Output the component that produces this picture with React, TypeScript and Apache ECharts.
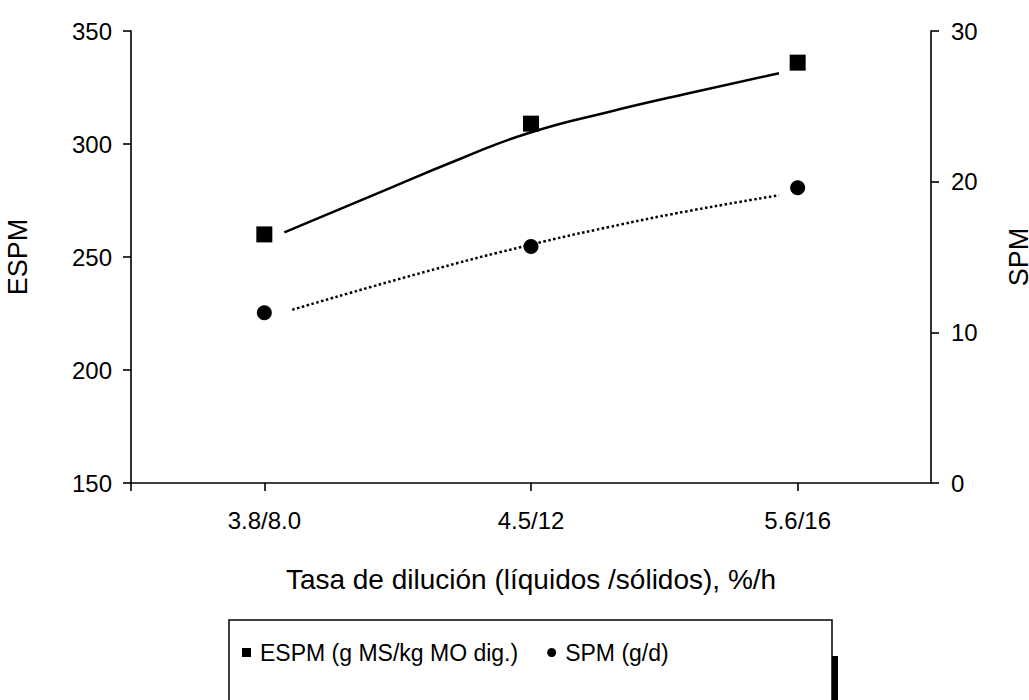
import React, { useEffect, useRef } from "react";
import * as echarts from "echarts";

const categories = ["3.8/8.0", "4.5/12", "5.6/16"];
const categorySlots = [1, 3, 5];
const espmValues = [260, 309, 336];
const spmValues = [11.3, 15.7, 19.6];
const espmTrendX = [1.15, 1.79, 2.48, 2.99, 3.59, 4.15, 4.86];
const espmTrendY = [260.9, 276.7, 293.7, 305.0, 314.3, 322.0, 331.3];
const spmTrendX = [1.21, 2.2, 2.99, 3.59, 4.15, 4.86];
const spmTrendY = [11.5, 14.0, 15.8, 17.0, 18.0, 19.1];
const leftTicks = [150, 200, 250, 300, 350];
const rightTicks = [0, 10, 20, 30];

const FONT = "'Liberation Sans', Arial, sans-serif";
const TICK_FS = 24;
const NAME_FS = 27;
const TITLE_FS = 28;
const LEGEND_FS = 23;

export default function App() {
  const ref = useRef<HTMLDivElement>(null);
  useEffect(() => {
    if (!ref.current) return;
    const chart = echarts.init(ref.current, null, { renderer: "svg" });
    const axisCats: string[] = ["", ...categories.flatMap((c) => [c, ""])];
    const line = { lineStyle: { color: "#000", width: 1.6 } };
    chart.setOption({
      animation: false,
      backgroundColor: "#fff",
      textStyle: { fontFamily: FONT, color: "#000" },
      grid: {
        left: 131,
        right: 98,
        top: 31,
        bottom: 217,
        containLabel: false,
        outerBoundsMode: "none",
      },
      xAxis: [
        {
          type: "category",
          data: axisCats,
          boundaryGap: false,
          axisLine: { show: true, ...line },
          axisTick: {
            show: true,
            length: 8,
            inside: false,
            interval: (i: number) => i === 0 || i % 2 === 1,
            ...line,
          },
          axisLabel: {
            interval: (i: number) => i % 2 === 1,
            fontSize: TICK_FS,
            fontFamily: FONT,
            color: "#000",
            margin: 25,
          },
          splitLine: { show: false },
          name: "Tasa de dilución (líquidos /sólidos), %/h",
          nameLocation: "middle",
          nameGap: 82,
          nameTextStyle: { fontSize: TITLE_FS, fontFamily: FONT, color: "#000" },
        },
        {
          type: "value",
          min: 0,
          max: 6,
          show: false,
        },
      ],
      yAxis: [
        {
          type: "value",
          min: leftTicks[0],
          max: leftTicks[leftTicks.length - 1],
          interval: 50,
          position: "left",
          axisLine: { show: true, onZero: false, ...line },
          axisTick: { show: true, length: 8, inside: false, ...line },
          axisLabel: { fontSize: TICK_FS, fontFamily: FONT, color: "#000", margin: 19 },
          splitLine: { show: false },
          name: "ESPM",
          nameLocation: "middle",
          nameRotate: 90,
          nameGap: 100,
          nameTextStyle: { fontSize: NAME_FS, fontFamily: FONT, color: "#000" },
        },
        {
          type: "value",
          min: rightTicks[0],
          max: rightTicks[rightTicks.length - 1],
          interval: 10,
          position: "right",
          axisLine: { show: true, onZero: false, ...line },
          axisTick: { show: true, length: 8, inside: false, ...line },
          axisLabel: { fontSize: TICK_FS, fontFamily: FONT, color: "#000", margin: 20 },
          splitLine: { show: false },
          name: "SPM",
          nameLocation: "middle",
          nameRotate: 90,
          nameGap: 74,
          nameTextStyle: { fontSize: NAME_FS, fontFamily: FONT, color: "#000" },
        },
      ],
      legend: {
        left: 237,
        top: 636,
        itemGap: 29,
        itemWidth: 9,
        itemHeight: 9,
        textStyle: { fontSize: LEGEND_FS, fontFamily: FONT, color: "#000", padding: [0, 0, 0, 4] },
        data: [
          { name: "ESPM (g MS/kg MO dig.)", icon: "rect" },
          { name: "SPM (g/d)", icon: "circle" },
        ],
      },
      graphic: [
        {
          type: "rect",
          z: 0,
          shape: { x: 832, y: 656, width: 6, height: 60 },
          style: { fill: "#000" },
        },
        {
          type: "rect",
          z: 1,
          shape: { x: 229, y: 620, width: 603, height: 100 },
          style: { fill: "#fff", stroke: "#000", lineWidth: 1.5 },
        },
      ],
      series: [
        {
          name: "ESPM trend",
          type: "line",
          xAxisIndex: 1,
          yAxisIndex: 0,
          smooth: true,
          showSymbol: false,
          symbol: "none",
          lineStyle: { color: "#000", width: 2.5, type: "solid" },
          data: espmTrendX.map((x, i) => [x, espmTrendY[i]]),
          z: 2,
        },
        {
          name: "SPM trend",
          type: "line",
          xAxisIndex: 1,
          yAxisIndex: 1,
          smooth: true,
          showSymbol: false,
          symbol: "none",
          lineStyle: { color: "#000", width: 2.5, type: [2.5, 2.5] },
          data: spmTrendX.map((x, i) => [x, spmTrendY[i]]),
          z: 2,
        },
        {
          name: "ESPM (g MS/kg MO dig.)",
          type: "scatter",
          xAxisIndex: 1,
          yAxisIndex: 0,
          symbol: "rect",
          symbolSize: 16,
          itemStyle: { color: "#000", opacity: 1 },
          data: categorySlots.map((x, i) => [x, espmValues[i]]),
          z: 3,
        },
        {
          name: "SPM (g/d)",
          type: "scatter",
          xAxisIndex: 1,
          yAxisIndex: 1,
          symbol: "circle",
          symbolSize: 15,
          itemStyle: { color: "#000", opacity: 1 },
          data: categorySlots.map((x, i) => [x, spmValues[i]]),
          z: 3,
        },
      ],
    });
    return () => chart.dispose();
  }, []);
  return (
    <div
      ref={ref}
      style={{ position: "fixed", left: 0, top: 0, width: 1029, height: 700 }}
    />
  );
}
